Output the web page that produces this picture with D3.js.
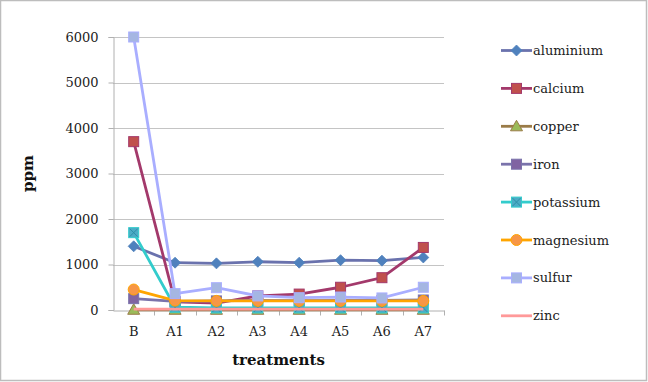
<!DOCTYPE html>
<html>
<head>
<meta charset="utf-8">
<script src="https://cdn.jsdelivr.net/npm/d3@7/dist/d3.min.js"></script>
<style>
  body { margin: 0; background: #fff; }
  svg { display: block; }
</style>
</head>
<body>
<div id="chart"></div>
<script>
// treatments on the x axis
const treatments = ['B', 'A1', 'A2', 'A3', 'A4', 'A5', 'A6', 'A7'];
const yTicks = [0, 1000, 2000, 3000, 4000, 5000, 6000];

const aluminium = [1400, 1040, 1025, 1060, 1040, 1095, 1085, 1155];
const calcium   = [3700, 180, 150, 310, 350, 500, 710, 1375];
const copper    = [5, 5, 5, 5, 5, 5, 5, 5];
const iron      = [250, 190, 200, 210, 205, 210, 210, 220];
const potassium = [1700, 60, 45, 45, 45, 45, 45, 45];
const magnesium = [450, 205, 200, 200, 200, 200, 200, 200];
const sulfur    = [6000, 360, 490, 310, 270, 285, 265, 500];
const zinc      = [20, 20, 20, 20, 20, 20, 20, 20];

const series = [
  { name: 'aluminium', values: aluminium, line: '#6a72ad', fill: '#4f81bd', stroke: '#4f81bd', shape: 'diamond' },
  { name: 'calcium',   values: calcium,   line: '#a3396b', fill: '#c0504d', stroke: '#a3396b', shape: 'square' },
  { name: 'copper',    values: copper,    line: '#9a7b48', fill: '#9bbb59', stroke: '#9a7b48', shape: 'triangle' },
  { name: 'iron',      values: iron,      line: '#7a73ab', fill: '#8064a2', stroke: '#7a73ab', shape: 'square' },
  { name: 'potassium', values: potassium, line: '#33cccc', fill: '#4bacc6', stroke: '#33cccc', shape: 'xsquare' },
  { name: 'magnesium', values: magnesium, line: '#ffa500', fill: '#f79646', stroke: '#ffa500', shape: 'circle' },
  { name: 'sulfur',    values: sulfur,    line: '#a9aeff', fill: '#a5b6e2', stroke: '#a9aeff', shape: 'square' },
  { name: 'zinc',      values: zinc,      line: '#ff9999', fill: 'none',    stroke: 'none',    shape: 'none' }
];

const W = 648, H = 382;
const plot = { left: 113, right: 444, top: 37, bottom: 310 };
const serif = '"DejaVu Serif", "Liberation Serif", serif';

const svg = d3.select('#chart').append('svg')
  .attr('width', W)
  .attr('height', H);

// outer frame
svg.append('rect')
  .attr('x', 0.5).attr('y', 0.5)
  .attr('width', W - 2).attr('height', H - 2)
  .attr('fill', '#fff')
  .attr('stroke', '#bdbdbd')
  .attr('stroke-width', 1.5);

const x = d3.scaleBand()
  .domain(treatments)
  .range([plot.left, plot.right]);

const y = d3.scaleLinear()
  .domain([0, 6000])
  .range([plot.bottom, plot.top]);

// gridlines
svg.append('g')
  .selectAll('line')
  .data(yTicks.filter(t => t > 0))
  .enter()
  .append('line')
    .attr('x1', plot.left)
    .attr('x2', plot.right)
    .attr('y1', d => Math.round(y(d)) + 0.5)
    .attr('y2', d => Math.round(y(d)) + 0.5)
    .attr('stroke', '#c4c4c4')
    .attr('stroke-width', 1.2);

// y axis
const yAxis = svg.append('g')
  .attr('transform', `translate(${plot.left + 0.5},0)`)
  .call(d3.axisLeft(y).tickValues(yTicks).tickSize(5).tickPadding(10).tickFormat(d3.format('d')));
yAxis.select('.domain').attr('stroke', '#b0b0b0');
yAxis.selectAll('.tick line').attr('stroke', '#b0b0b0');
yAxis.selectAll('text')
  .attr('font-family', serif)
  .attr('font-size', '13px')
  .attr('fill', '#222');

// x axis
const xAxis = svg.append('g')
  .attr('transform', `translate(0,${plot.bottom + 0.5})`)
  .call(d3.axisBottom(x).tickSize(0).tickPadding(16));
xAxis.select('.domain').attr('stroke', '#b0b0b0');
xAxis.selectAll('text')
  .attr('font-family', serif)
  .attr('font-size', '13px')
  .attr('fill', '#222');
// tick marks between categories
xAxis.append('g')
  .selectAll('line')
  .data(treatments)
  .enter()
  .append('line')
    .attr('x1', d => Math.round(x(d) + x.step()) + 0.5)
    .attr('x2', d => Math.round(x(d) + x.step()) + 0.5)
    .attr('y1', 0)
    .attr('y2', 5)
    .attr('stroke', '#b0b0b0');

// axis titles
svg.append('text')
  .attr('x', (plot.left + plot.right) / 2)
  .attr('y', 365)
  .attr('text-anchor', 'middle')
  .attr('font-family', serif)
  .attr('font-weight', 'bold')
  .attr('font-size', '15px')
  .attr('fill', '#111')
  .text('treatments');

svg.append('text')
  .attr('transform', `translate(33,${(plot.top + plot.bottom) / 2}) rotate(-90)`)
  .attr('text-anchor', 'middle')
  .attr('font-family', serif)
  .attr('font-weight', 'bold')
  .attr('font-size', '15px')
  .attr('fill', '#111')
  .text('ppm');

const cx = d => x(d) + x.bandwidth() / 2;

function drawMarker(g, s, px, py) {
  if (s.shape === 'diamond') {
    g.append('path')
      .attr('d', `M${px},${py - 5.5}L${px + 5.5},${py}L${px},${py + 5.5}L${px - 5.5},${py}Z`)
      .attr('fill', s.fill).attr('stroke', s.stroke).attr('stroke-width', 0.8);
  } else if (s.shape === 'square' || s.shape === 'xsquare') {
    g.append('rect')
      .attr('x', px - 5).attr('y', py - 5)
      .attr('width', 10).attr('height', 10)
      .attr('fill', s.fill).attr('stroke', s.stroke).attr('stroke-width', 1);
    if (s.shape === 'xsquare') {
      g.append('path')
        .attr('d', `M${px - 4},${py - 4}L${px + 4},${py + 4}M${px + 4},${py - 4}L${px - 4},${py + 4}`)
        .attr('stroke', '#2f8fa8').attr('stroke-width', 1);
    }
  } else if (s.shape === 'triangle') {
    g.append('path')
      .attr('d', `M${px},${py - 6}L${px + 6},${py + 4.5}L${px - 6},${py + 4.5}Z`)
      .attr('fill', s.fill).attr('stroke', s.stroke).attr('stroke-width', 1);
  } else if (s.shape === 'circle') {
    g.append('circle')
      .attr('cx', px).attr('cy', py).attr('r', 5.5)
      .attr('fill', s.fill).attr('stroke', s.stroke).attr('stroke-width', 1);
  }
}

const line = d3.line()
  .x(d => cx(d.t))
  .y(d => y(d.v));

// series
series.forEach(s => {
  const pts = treatments.map((t, i) => ({ t, v: s.values[i] }));
  const g = svg.append('g');
  g.append('path')
    .attr('d', line(pts))
    .attr('fill', 'none')
    .attr('stroke', s.line)
    .attr('stroke-width', 2.8)
    .attr('stroke-linejoin', 'round');
  pts.forEach(p => drawMarker(g, s, cx(p.t), y(p.v)));
});

// legend
const legend = svg.append('g');
series.forEach((s, i) => {
  const ly = 50.5 + i * 37.9;
  const g = legend.append('g');
  g.append('line')
    .attr('x1', 501).attr('x2', 532)
    .attr('y1', ly).attr('y2', ly)
    .attr('stroke', s.line)
    .attr('stroke-width', 2.8);
  drawMarker(g, s, 516.5, ly);
  g.append('text')
    .attr('x', 533)
    .attr('y', ly)
    .attr('dy', '0.35em')
    .attr('font-family', serif)
    .attr('font-size', '13px')
    .attr('fill', '#222')
    .text(s.name);
});
</script>
</body>
</html>
